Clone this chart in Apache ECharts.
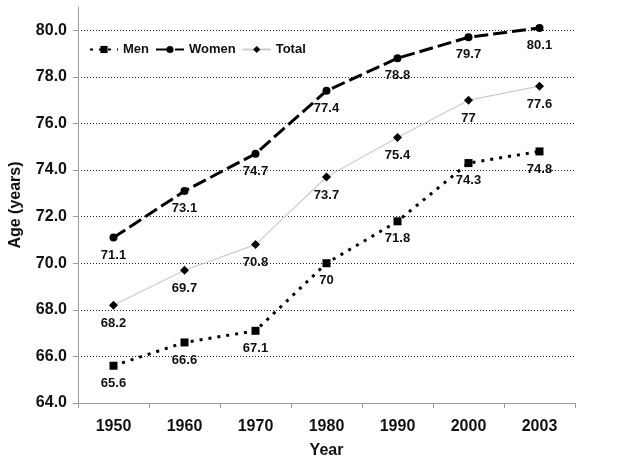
<!DOCTYPE html>
<html>
<head>
<meta charset="utf-8">
<script src="https://cdn.jsdelivr.net/npm/echarts@6/dist/echarts.min.js"></script>
<style>
  html, body { margin: 0; padding: 0; background: #fff; }
  #chart { width: 629px; height: 464px; }
</style>
</head>
<body>
<div id="chart"></div>
<script>
const years = ['1950', '1960', '1970', '1980', '1990', '2000', '2003']
const men = [65.6, 66.6, 67.1, 70, 71.8, 74.3, 74.8]
const women = [71.1, 73.1, 74.7, 77.4, 78.8, 79.7, 80.1]
const total = [68.2, 69.7, 70.8, 73.7, 75.4, 77, 77.6]

const font = 'Liberation Sans, Arial, sans-serif'
const label = { show: true, position: 'bottom', distance: 7, color: '#111', fontFamily: font, fontWeight: 'bold', fontSize: 13 }

const chart = echarts.init(document.getElementById('chart'))
chart.setOption({
  animation: false,
  grid: { left: 75, right: 54, top: 7, bottom: 60 },
  legend: {
    left: 84, top: 38, itemGap: 6, itemWidth: 28, itemHeight: 9,
    textStyle: { fontFamily: font, fontWeight: 'bold', fontSize: 13, color: '#111' },
    data: ['Men', 'Women', 'Total']
  },
  xAxis: {
    type: 'category', data: years, boundaryGap: true,
    name: 'Year', nameLocation: 'middle', nameGap: 40,
    nameTextStyle: { fontFamily: font, fontWeight: 'bold', fontSize: 16, color: '#111' },
    axisLine: { lineStyle: { color: '#999' } },
    axisTick: { show: true, length: 5, lineStyle: { color: '#999' } },
    axisLabel: { fontFamily: font, fontWeight: 'bold', fontSize: 16, color: '#111', margin: 16 }
  },
  yAxis: {
    type: 'value', min: 64, max: 81, interval: 2,
    name: 'Age (years)', nameLocation: 'middle', nameGap: 54, nameRotate: 90,
    nameTextStyle: { fontFamily: font, fontWeight: 'bold', fontSize: 16, color: '#111' },
    axisLine: { show: true, lineStyle: { color: '#999' } },
    axisTick: { show: true, length: 5, lineStyle: { color: '#999' } },
    axisLabel: { fontFamily: font, fontWeight: 'bold', fontSize: 16, color: '#111', margin: 11,
      showMaxLabel: false,
      formatter: (v) => (v % 2 === 0 ? v.toFixed(1) : '') },
    splitLine: { showMaxLine: false, lineStyle: { color: '#222', type: [1, 2], width: 1 } }
  },
  series: [
    {
      name: 'Men', type: 'line', data: men,
      symbol: 'rect', symbolSize: 8,
      itemStyle: { color: '#000' },
      lineStyle: { color: '#000', width: 3, type: [3, 6] },
      label: label
    },
    {
      name: 'Women', type: 'line', data: women,
      symbol: 'circle', symbolSize: 8,
      itemStyle: { color: '#000' },
      lineStyle: { color: '#000', width: 3, type: [14, 5] },
      label: label
    },
    {
      name: 'Total', type: 'line', data: total,
      symbol: 'diamond', symbolSize: 9,
      itemStyle: { color: '#000' },
      lineStyle: { color: '#ccc', width: 1.2 },
      label: label
    }
  ]
})
</script>
</body>
</html>
